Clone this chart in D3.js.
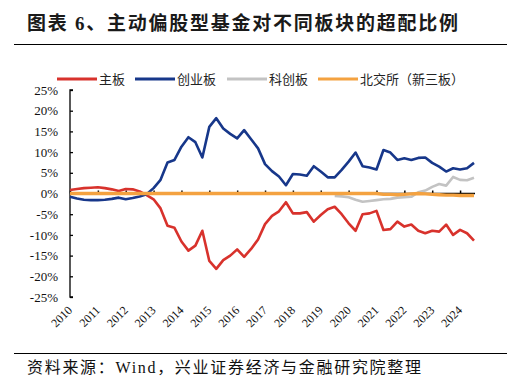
<!DOCTYPE html>
<html>
<head>
<meta charset="utf-8">
<script src="https://cdn.jsdelivr.net/npm/d3@7"></script>
<style>
  body { margin: 0; background: #fff; }
  svg { display: block; }
</style>
</head>
<body>
<svg id="chart"></svg>
<script>
// quarterly data, 2010Q1 .. 2024Q3
const years = d3.range(2010, 2025);
const quarters = d3.range(59).map(i => `${2010 + Math.floor(i / 4)}Q${i % 4 + 1}`);

const mainBoard = [0.85, 1.1, 1.3, 1.4, 1.5, 1.3, 1.0, 0.6, 1.1, 1.0, 0.5, -0.4,
  -1.4, -3.6, -7.8, -8.3, -11.6, -13.8, -12.6, -9.0, -16.3, -18.2, -16.1, -15.0,
  -13.5, -15.3, -13.4, -11.1, -7.4, -5.4, -4.3, -2.1, -4.8, -4.8, -4.5, -6.8,
  -5.2, -3.8, -3.2, -5.0, -7.2, -9.0, -5.0, -4.8, -4.2, -8.8, -8.6, -6.8,
  -8.0, -7.5, -9.0, -9.6, -9.0, -9.2, -7.5, -10.0, -8.8, -9.6, -11.4];

const chinext = [-0.8, -1.2, -1.5, -1.6, -1.6, -1.5, -1.3, -1.0, -1.4, -1.1, -0.7, -0.2,
  1.3, 3.3, 7.5, 8.1, 11.3, 13.6, 12.4, 8.7, 16.1, 18.2, 15.7, 14.4,
  13.3, 15.3, 13.1, 10.9, 7.1, 5.4, 4.1, 2.0, 4.7, 4.6, 4.3, 6.6,
  5.3, 3.9, 3.9, 5.7, 7.7, 9.9, 6.6, 6.3, 5.8, 10.5, 9.9, 8.1,
  8.5, 8.1, 8.6, 8.7, 7.4, 6.5, 5.3, 6.1, 5.8, 6.1, 7.4];

const star = [null, null, null, null, null, null, null, null, null, null, null, null,
  null, null, null, null, null, null, null, null, null, null, null, null,
  null, null, null, null, null, null, null, null, null, null, null, null,
  null, null, -0.6, -0.7, -0.9, -1.5, -2.0, -1.8, -1.6, -1.4, -1.3, -1.0,
  -0.9, -0.8, 0.3, 0.7, 1.6, 2.3, 1.9, 4.0, 3.3, 3.2, 3.8];

const bse = [0, 0, 0, 0, 0, 0, 0, 0, 0, 0, 0, 0,
  0, 0, 0, 0, 0, 0, 0, 0, 0, 0, 0, 0,
  0, 0, 0, 0, 0, 0, 0, 0, 0, 0, 0, 0,
  0, 0, 0, 0, 0, 0, 0, 0, 0, -0.2, -0.2, -0.3,
  -0.2, -0.1, 0, -0.1, -0.2, -0.3, -0.4, -0.4, -0.5, -0.5, -0.5];

const yTicks = d3.range(-25, 26, 5);

const series = [
  {name: "主板", values: mainBoard, color: "#d8322c", width: 2.6},
  {name: "创业板", values: chinext, color: "#17378a", width: 2.6},
  {name: "科创板", values: star, color: "#c3c3c3", width: 2.6},
  {name: "北交所（新三板）", values: bse, color: "#f4a240", width: 3.4}
];

const width = 526, height = 386;
const svg = d3.select("#chart").attr("width", width).attr("height", height);

const x = d3.scaleLinear().domain([0, quarters.length - 1]).range([70, 474]);
const y = d3.scaleLinear().domain([-25, 25]).range([297, 90]);

// title
svg.append("text")
  .attr("x", 27).attr("y", 30)
  .attr("textLength", 431).attr("lengthAdjust", "spacing")
  .style("font", "bold 19px 'Liberation Serif', 'Noto Sans CJK SC'")
  .attr("fill", "#1a1a1a")
  .text("图表 6、主动偏股型基金对不同板块的超配比例");

svg.append("line").attr("x1", 14).attr("x2", 507).attr("y1", 44.5).attr("y2", 44.5)
  .attr("stroke", "#000").attr("stroke-width", 1);
svg.append("line").attr("x1", 14).attr("x2", 507).attr("y1", 353.5).attr("y2", 353.5)
  .attr("stroke", "#000").attr("stroke-width", 1);

// source
svg.append("text")
  .attr("x", 27).attr("y", 373)
  .attr("textLength", 394).attr("lengthAdjust", "spacing")
  .style("font", "16px 'Liberation Serif', 'Noto Sans CJK SC'")
  .attr("fill", "#111")
  .text("资料来源：Wind，兴业证券经济与金融研究院整理");

// legend
const legendX = [57, 135, 227, 318];
const legend = svg.append("g").selectAll("g").data(series).join("g")
  .attr("transform", (d, i) => `translate(${legendX[i]},79)`);
legend.append("line").attr("x1", 0).attr("x2", 40)
  .attr("stroke", d => d.color).attr("stroke-width", 3);
legend.append("text").attr("x", 42).attr("dy", "0.36em")
  .style("font", "13px 'Noto Sans CJK SC'").attr("fill", "#222")
  .text(d => d.name);

// y axis
const yAxis = svg.append("g").attr("transform", "translate(70,0)")
  .call(d3.axisLeft(y).tickValues(yTicks).tickSize(-3).tickPadding(12)
    .tickFormat(d => d + "%"));
yAxis.select(".domain").attr("d", `M3,${y(25)}H0V${y(-25)}H3`).attr("stroke-width", 1.3);
yAxis.selectAll(".tick line").attr("stroke-width", 1.3);
yAxis.selectAll("text").style("font", "13px 'Liberation Serif'").attr("fill", "#111");

// x axis at zero
const xAxis = svg.append("g").attr("transform", `translate(0,${y(0)})`)
  .call(d3.axisBottom(x).tickValues(years.map((yr, i) => i * 4)).tickSize(-3).tickFormat(""));
xAxis.select(".domain").attr("d", `M${x(0)},0H${x(quarters.length - 1) + 1}`).attr("stroke-width", 1.3);
xAxis.selectAll(".tick line").attr("stroke-width", 1.5);

// rotated year labels
svg.append("g").selectAll("text").data(years).join("text")
  .attr("transform", (d, i) => `translate(${x(i * 4) + 3},${311}) rotate(-45)`)
  .attr("text-anchor", "end")
  .style("font", "12px 'Liberation Serif'").attr("fill", "#111")
  .text(d => d);

// lines
const line = d3.line()
  .defined(d => d != null)
  .x((d, i) => x(i))
  .y(d => y(d));

svg.append("g").attr("fill", "none")
  .selectAll("path").data(series).join("path")
  .attr("stroke", d => d.color)
  .attr("stroke-width", d => d.width)
  .attr("stroke-linejoin", "round")
  .attr("d", d => line(d.values));
</script>
</body>
</html>
